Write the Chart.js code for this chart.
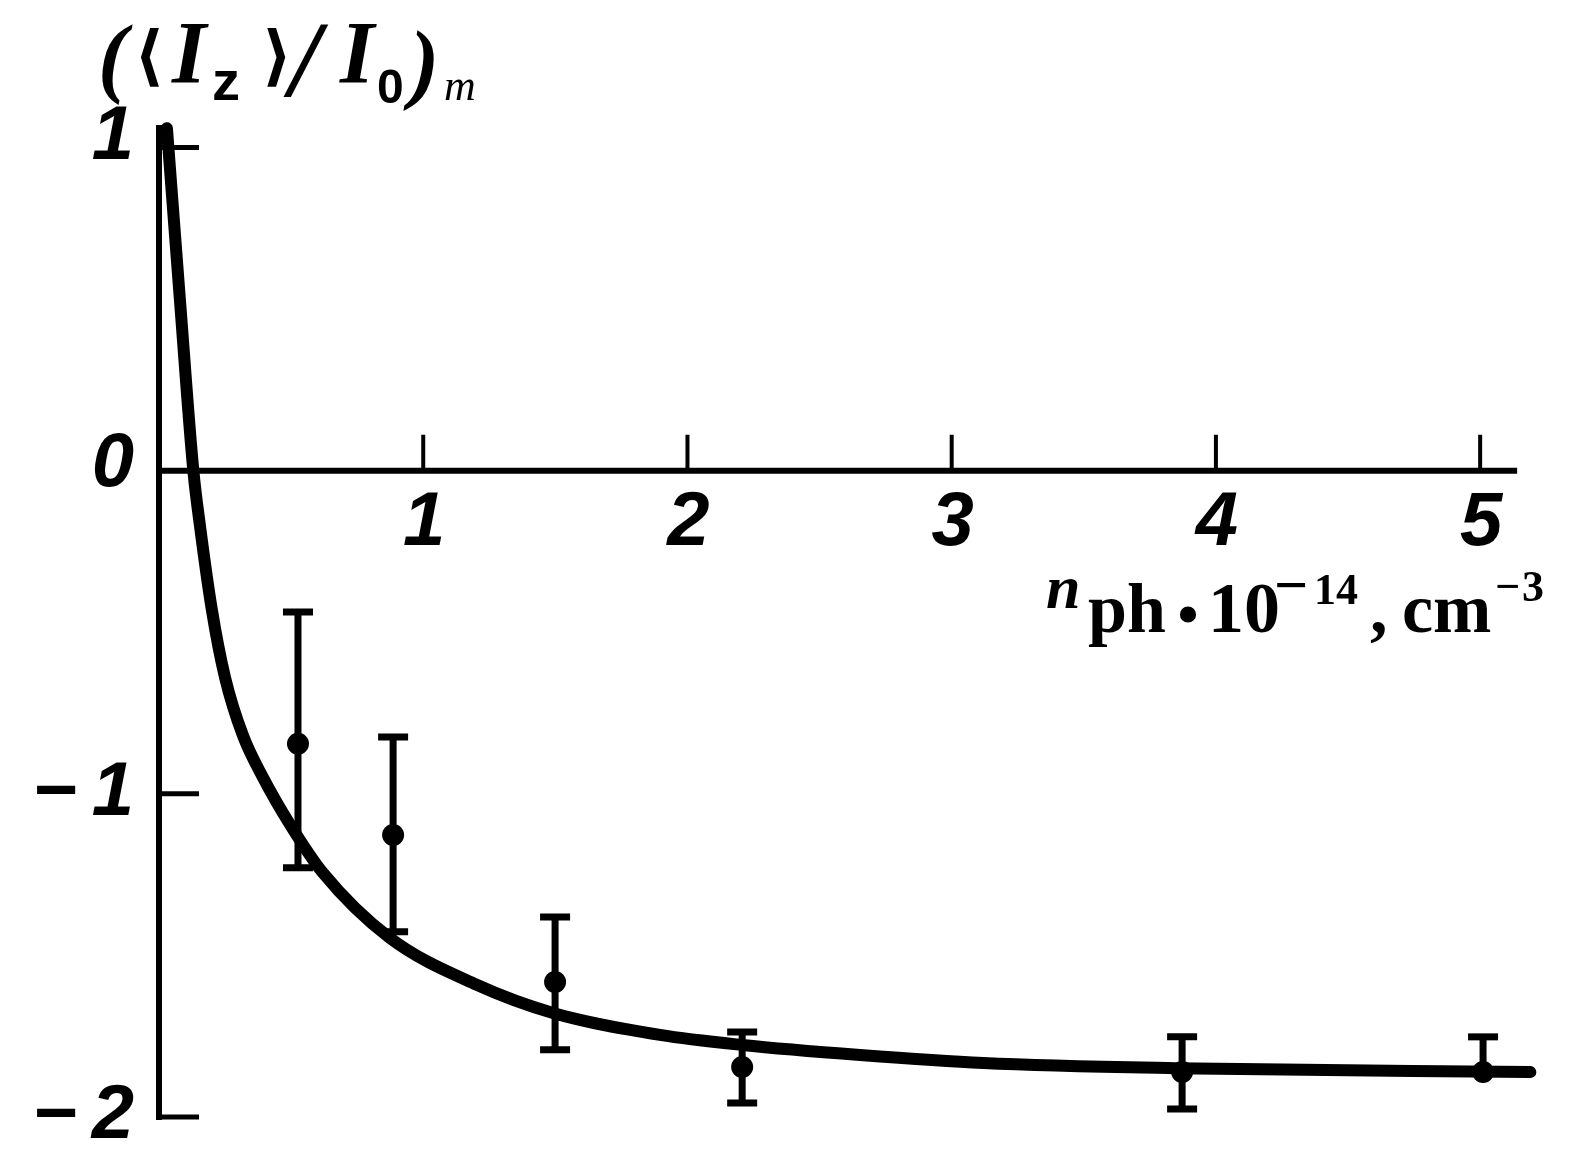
<!DOCTYPE html>
<html>
<head>
<meta charset="utf-8">
<script src="https://cdn.jsdelivr.net/npm/chart.js@4.4.0/dist/chart.umd.min.js"></script>
<style>
  html, body { margin: 0; padding: 0; background: #fff; }
  #wrap { width: 1579px; height: 1174px; position: relative; }
</style>
</head>
<body>
<div id="wrap"><canvas id="chart"></canvas></div>
<script>
// theoretical curve
const curveX = [0.03, 0.08, 0.13, 0.155, 0.2, 0.25, 0.318, 0.394, 0.496, 0.621, 0.874, 1.2, 1.491, 1.896, 2.207, 2.653, 3.12, 3.846, 5.19];
const curveY = [1.06, 0.52, 0.0, -0.17, -0.43, -0.64, -0.82, -0.95, -1.095, -1.245, -1.446, -1.59, -1.678, -1.746, -1.777, -1.808, -1.833, -1.849, -1.861];

// measured points with error bars
const pointX = [0.526, 0.886, 1.499, 2.207, 3.872, 5.011];
const pointY = [-0.845, -1.127, -1.582, -1.845, -1.861, -1.861];
const errHigh = [-0.437, -0.824, -1.381, -1.737, -1.752, -1.752];
const errLow = [-1.229, -1.427, -1.792, -1.957, -1.975, -1.861];

// axes
const xTicks = [1, 2, 3, 4, 5];
const xTickLabels = ['1', '2', '3', '4', '5'];
const yTicks = [1, 0, -1, -2];
const yTickLabels = ['1', '0', '\u2212\u20091', '\u2212\u20092'];

const X_MAX = 5.2, Y_MIN = -2, Y_MAX = 1.07, X_AXIS_END = 5.14;

document.addEventListener("DOMContentLoaded", () => {
    const tickFont = 'italic bold 76px "Liberation Sans Narrow", "Liberation Sans", sans-serif';

    function txt(ctx, s, x, y, font, align) {
        ctx.font = font;
        ctx.textAlign = align || 'left';
        ctx.fillText(s, x, y);
    }

    // axes drawn through the scales: y axis at x=0, x axis at y=0
    const axesPlugin = {
        id: 'axes',
        beforeDatasetsDraw(chart) {
            const { ctx, scales: { x, y } } = chart;
            const x0 = x.getPixelForValue(0);
            const y0 = y.getPixelForValue(0);
            ctx.save();
            ctx.strokeStyle = '#000';
            ctx.fillStyle = '#000';
            ctx.lineCap = 'butt';

            ctx.lineWidth = 6;
            ctx.beginPath();
            ctx.moveTo(x0, y.getPixelForValue(Y_MAX));
            ctx.lineTo(x0, y.getPixelForValue(Y_MIN) + 3);
            ctx.stroke();

            ctx.lineWidth = 6;
            ctx.beginPath();
            ctx.moveTo(x0 - 3, y0);
            ctx.lineTo(x.getPixelForValue(X_AXIS_END), y0);
            ctx.stroke();

            // y ticks pointing inward
            yTicks.forEach(v => {
                if (v === 0) return;
                const py = y.getPixelForValue(v);
                ctx.lineWidth = 5;
                ctx.beginPath();
                ctx.moveTo(x0 - 3, py);
                ctx.lineTo(x0 + 40, py);
                ctx.stroke();
            });
            // x ticks pointing up
            xTicks.forEach(v => {
                const px = x.getPixelForValue(v);
                ctx.lineWidth = 4;
                ctx.beginPath();
                ctx.moveTo(px, y0);
                ctx.lineTo(px, y0 - 36);
                ctx.stroke();
            });

            ctx.textBaseline = 'alphabetic';
            xTicks.forEach((v, i) => {
                txt(ctx, xTickLabels[i], x.getPixelForValue(v) + 1, y0 + 74, tickFont, 'center');
            });
            ctx.textBaseline = 'middle';
            yTicks.forEach((v, i) => {
                const off = v === 1 ? -10 : (v === 0 ? -6 : 0);
                txt(ctx, yTickLabels[i], 134, y.getPixelForValue(v) + off, tickFont, 'right');
            });
            ctx.restore();
        }
    };

    const errorBarPlugin = {
        id: 'errorBars',
        beforeDatasetsDraw(chart) {
            const { ctx, scales: { x, y } } = chart;
            ctx.save();
            ctx.strokeStyle = '#000';
            pointX.forEach((v, i) => {
                const px = x.getPixelForValue(v);
                const top = y.getPixelForValue(errHigh[i]);
                const bot = y.getPixelForValue(errLow[i]);
                ctx.lineWidth = 7;
                ctx.beginPath();
                ctx.moveTo(px, top);
                ctx.lineTo(px, bot);
                ctx.stroke();
                ctx.lineWidth = 7;
                ctx.beginPath();
                ctx.moveTo(px - 15, top);
                ctx.lineTo(px + 15, top);
                if (errLow[i] !== pointY[i]) {
                    ctx.moveTo(px - 15, bot);
                    ctx.lineTo(px + 15, bot);
                }
                ctx.stroke();
            });
            ctx.restore();
        }
    };

    const titlesPlugin = {
        id: 'titles',
        afterDraw(chart) {
            const { ctx } = chart;
            ctx.save();
            ctx.fillStyle = '#000';
            ctx.textBaseline = 'alphabetic';
            const serifBI = 'italic bold 88px "Liberation Serif", serif';
            const brk = 'bold 66px "DejaVu Sans", sans-serif';
            // y-axis title: (<I_z>/I_0)_m
            txt(ctx, '(', 98, 86, serifBI);
            txt(ctx, '\u27E8', 134, 78, brk);
            txt(ctx, 'I', 172, 82, serifBI);
            txt(ctx, 'z', 212, 100, 'bold 56px "Liberation Sans", sans-serif');
            txt(ctx, '\u27E9', 262, 78, brk);
            txt(ctx, '/', 290, 96, 'italic bold 108px "Liberation Serif", serif');
            txt(ctx, 'I', 340, 82, serifBI);
            txt(ctx, '0', 377, 103, 'bold 48px "Liberation Sans", sans-serif');
            txt(ctx, ')', 410, 92, serifBI);
            txt(ctx, 'm', 444, 100, 'italic 44px "Liberation Serif", serif');

            // x-axis title: n_ph · 10^-14, cm^-3
            const serifB = 'bold 70px "Liberation Serif", serif';
            const sup = 'bold 44px "Liberation Serif", serif';
            txt(ctx, 'n', 1046, 608, 'italic bold 62px "Liberation Serif", serif');
            txt(ctx, 'ph', 1088, 632, serifB);
            txt(ctx, '\u2022', 1188, 634, 'bold 60px "Liberation Serif", serif', 'center');
            txt(ctx, '10', 1208, 632, 'bold 72px "Liberation Serif", serif');
            txt(ctx, '\u2212', 1274, 605, 'bold 60px "Liberation Serif", serif');
            txt(ctx, '14', 1314, 604, sup);
            txt(ctx, ',', 1370, 632, serifB);
            txt(ctx, 'cm', 1402, 632, serifB);
            txt(ctx, '\u2212', 1495, 601, sup);
            txt(ctx, '3', 1522, 601, sup);
            ctx.restore();
        }
    };

    const ctx = document.getElementById('chart').getContext('2d');
    new Chart(ctx, {
        type: 'scatter',
        data: {
            datasets: [{
                label: 'theory',
                data: curveX.map((v, i) => ({ x: v, y: curveY[i] })),
                showLine: true,
                borderColor: '#000',
                borderWidth: 12,
                pointRadius: 0,
                cubicInterpolationMode: 'monotone',
                borderCapStyle: 'round',
                borderJoinStyle: 'round',
                clip: false
            }, {
                label: 'experiment',
                data: pointX.map((v, i) => ({ x: v, y: pointY[i] })),
                showLine: false,
                pointRadius: 11,
                pointBackgroundColor: '#000',
                pointBorderColor: '#000',
                pointBorderWidth: 0
            }]
        },
        options: {
            responsive: true,
            maintainAspectRatio: false,
            animation: false,
            layout: {
                padding: { left: 159, right: 46, top: 125, bottom: 57 }
            },
            plugins: {
                legend: { display: false },
                tooltip: { enabled: false }
            },
            scales: {
                x: { type: 'linear', min: 0, max: X_MAX, display: false },
                y: { type: 'linear', min: Y_MIN, max: Y_MAX, display: false }
            }
        },
        plugins: [axesPlugin, errorBarPlugin, titlesPlugin]
    });
});
</script>
</body>
</html>
